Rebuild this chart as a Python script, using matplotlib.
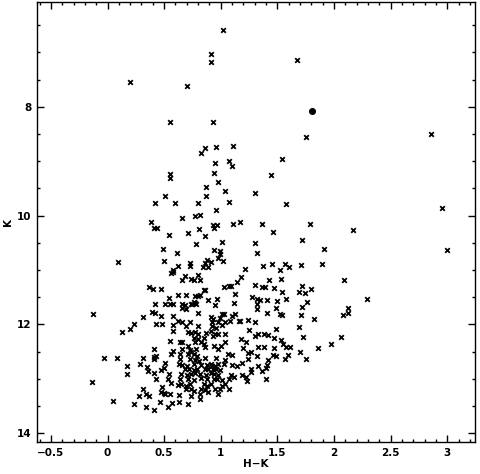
import numpy as np
import matplotlib
matplotlib.use('Agg')
import matplotlib.pyplot as plt
from matplotlib.ticker import MultipleLocator, FuncFormatter

plt.rcParams['font.family'] = ['DejaVu Sans']

# bright, sparse stars in the upper part of the diagram
hk_upper = [1.02, 0.91, 0.91, 1.67, 0.20, 0.70, 0.55, 0.93, 1.75, 2.86, 0.86, 0.96, 1.11]
k_upper = [6.58, 7.03, 7.18, 7.13, 7.55, 7.61, 8.27, 8.27, 8.55, 8.49, 8.75, 8.74, 8.72]

# K between ~8.8 and ~11.4
hk_mid = [0.83, 0.95, 1.07, 1.10, 0.55, 0.55, 0.94, 0.98, 0.87, 1.04, 1.30, 0.51, 0.87,
          0.42, 0.60, 0.80, 1.07, 0.96, 0.77, 0.82, 0.66, 0.38, 0.41, 0.44, 0.93, 0.97,
          0.94, 1.11, 1.17, 0.81, 0.54, 0.71, 0.86, 1.01, 1.30, 0.78, 0.49, 0.61, 0.94,
          0.99, 0.99, 0.98, 1.02, 1.32, 0.09, 0.50, 0.73, 0.73, 0.88, 0.86, 0.91, 0.84,
          0.89, 0.62, 0.58, 0.56, 0.58, 1.21, 0.68, 0.80, 0.66, 0.74, 0.76, 0.82, 1.18,
          1.14, 0.37, 0.40, 0.47, 0.85, 1.03, 1.07, 1.09, 1.30,
          1.54, 1.44, 1.58, 2.95, 1.36, 1.79, 1.46, 2.17, 1.72, 1.91, 3.00, 1.37, 1.45,
          1.57, 1.60, 1.52, 1.71, 1.89, 1.43, 1.53, 1.72, 2.09, 1.36, 1.39, 1.47, 1.80]
k_mid = [8.85, 9.03, 9.00, 9.09, 9.23, 9.30, 9.21, 9.39, 9.48, 9.54, 9.58, 9.64, 9.63,
         9.76, 9.76, 9.76, 9.74, 9.89, 10.00, 9.98, 10.04, 10.12, 10.22, 10.22, 10.18, 10.18,
         10.23, 10.16, 10.11, 10.24, 10.35, 10.32, 10.38, 10.48, 10.50, 10.52, 10.62, 10.68, 10.64,
         10.65, 10.71, 10.78, 10.83, 10.68, 10.86, 10.83, 10.87, 10.92, 10.81, 10.87, 10.86, 10.95,
         10.95, 10.92, 10.99, 11.06, 11.03, 10.98, 11.10, 11.09, 11.19, 11.17, 11.19, 11.19, 11.13,
         11.22, 11.31, 11.34, 11.35, 11.37, 11.31, 11.30, 11.30, 11.28,
         8.96, 9.26, 9.78, 9.85, 10.15, 10.15, 10.30, 10.27, 10.44, 10.62, 10.64, 10.93, 10.89,
         10.88, 10.95, 10.99, 10.91, 10.89, 11.19, 11.16, 11.30, 11.19, 11.32, 11.32, 11.33, 11.35]

# faint blue side, H-K < 0.6
hk_blue = [0.54, 0.42, 0.51, 0.55, 0.58, -0.13, 0.39, 0.42, 0.31, 0.47, 0.58, 0.23, 0.43,
           0.48, 0.58, 0.58, 0.20, 0.13, 0.55, 0.41, 0.58, 0.56, -0.03, 0.08, 0.31, 0.41,
           0.43, 0.41, 0.51, 0.29, 0.17, 0.35, 0.36, 0.47, 0.50, 0.54, 0.17, 0.41, 0.43,
           0.53, -0.14, 0.56, 0.48, 0.31, 0.47, 0.50, 0.51, 0.55, 0.34, 0.28, 0.37, 0.05,
           0.46, 0.57, 0.23, 0.34, 0.53, 0.41]
k_blue = [11.52, 11.62, 11.62, 11.62, 11.62, 11.80, 11.77, 11.78, 11.87, 11.85, 11.84, 11.99, 12.00,
          12.00, 12.01, 12.12, 12.09, 12.13, 12.31, 12.45, 12.49, 12.54, 12.62, 12.62, 12.62, 12.60,
          12.58, 12.63, 12.70, 12.73, 12.76, 12.79, 12.85, 12.84, 12.80, 12.91, 12.91, 12.90, 13.01,
          13.00, 13.05, 13.08, 13.15, 13.19, 13.25, 13.26, 13.27, 13.28, 13.27, 13.32, 13.31, 13.40,
          13.42, 13.44, 13.47, 13.52, 13.51, 13.58]

# dense core, 0.6 < H-K < 1.2
hk_core = [0.62, 0.69, 0.77, 0.80, 0.82, 0.86, 1.13, 0.89, 0.97, 0.76, 0.77, 0.66, 0.68,
           0.74, 0.75, 0.78, 0.95, 1.12, 0.66, 0.69, 0.80, 1.01, 1.03, 1.13, 1.10, 0.91,
           0.93, 0.99, 1.17, 0.62, 0.66, 0.73, 0.92, 0.98, 1.04, 1.08, 1.16, 0.69, 0.80,
           0.92, 0.96, 1.01, 0.71, 0.74, 0.77, 0.80, 0.87, 0.91, 0.95, 0.98, 1.04, 0.76,
           0.80, 0.85, 0.93, 0.64, 0.66, 0.77, 0.83, 0.85, 1.04, 1.18, 0.71, 0.86, 0.94,
           1.00, 0.66, 0.73, 0.74, 0.78, 0.98, 1.20, 0.64, 0.71, 0.76, 0.79, 0.86, 0.96,
           1.06, 1.10, 0.64, 0.73, 0.77, 0.81, 1.04, 1.19, 0.63, 0.66, 0.70, 0.76, 0.83,
           0.88, 0.91, 0.92, 0.95, 0.98, 1.03, 1.10, 1.14, 0.68, 0.72, 0.76, 0.79, 0.86,
           0.89, 0.93, 0.96, 0.99, 0.65, 0.70, 0.74, 0.77, 0.82, 0.87, 0.91, 0.94, 0.98,
           1.09, 1.12, 1.19, 0.64, 0.71, 0.76, 0.83, 0.88, 0.94, 0.97, 1.01, 1.07, 0.62,
           0.65, 0.69, 0.73, 0.85, 0.88, 0.91, 1.01, 1.04, 0.69, 0.74, 0.76, 0.83, 0.86,
           0.95, 0.99, 1.07, 0.63, 0.74, 0.82, 0.89, 0.98, 0.82, 0.63, 0.71]
k_core = [11.46, 11.46, 11.47, 11.47, 11.46, 11.36, 11.44, 11.55, 11.54, 11.58, 11.61, 11.63, 11.65,
          11.63, 11.63, 11.63, 11.65, 11.61, 11.69, 11.71, 11.78, 11.81, 11.81, 11.80, 11.84, 11.87,
          11.90, 11.88, 11.93, 11.93, 11.96, 11.96, 11.96, 11.96, 11.96, 11.93, 11.94, 12.02, 12.02,
          12.02, 12.06, 12.01, 12.14, 12.15, 12.14, 12.17, 12.15, 12.12, 12.18, 12.17, 12.17, 12.24,
          12.26, 12.24, 12.22, 12.32, 12.33, 12.33, 12.33, 12.35, 12.32, 12.27, 12.39, 12.41, 12.39,
          12.39, 12.45, 12.47, 12.50, 12.45, 12.45, 12.44, 12.55, 12.55, 12.55, 12.58, 12.61, 12.61,
          12.55, 12.57, 12.64, 12.64, 12.65, 12.67, 12.65, 12.71, 12.73, 12.75, 12.76, 12.73, 12.75,
          12.75, 12.73, 12.77, 12.76, 12.73, 12.73, 12.75, 12.76, 12.82, 12.82, 12.84, 12.82, 12.82,
          12.82, 12.82, 12.81, 12.84, 12.91, 12.93, 12.91, 12.90, 12.91, 12.93, 12.90, 12.91, 12.93,
          12.93, 12.96, 12.93, 13.01, 13.01, 13.02, 12.99, 13.01, 13.01, 13.01, 13.02, 13.01, 13.12,
          13.10, 13.13, 13.10, 13.10, 13.13, 13.10, 13.13, 13.10, 13.19, 13.19, 13.22, 13.19, 13.20,
          13.19, 13.19, 13.18, 13.30, 13.31, 13.28, 13.25, 13.28, 13.37, 13.42, 13.47]

# red side, H-K > 1.2
hk_red = [1.54, 1.69, 1.74, 1.28, 1.32, 1.35, 1.41, 1.50, 1.58, 1.76, 1.72, 1.32, 1.32,
          1.49, 1.41, 1.52, 1.54, 1.71, 1.24, 1.30, 1.82, 1.69, 1.25, 1.49, 1.30, 1.33,
          1.38, 1.42, 1.47, 1.53, 1.73, 1.22, 1.55, 1.97, 1.33, 1.38, 1.47, 1.58, 1.61,
          1.86, 1.27, 1.24, 1.70, 1.32, 1.46, 1.49, 1.59, 1.24, 1.42, 1.57, 1.75, 1.41,
          1.33, 1.40, 1.27, 1.36, 1.27, 1.22, 1.23, 1.40,
          2.29, 2.12, 2.12, 2.08, 2.06]
k_red = [11.40, 11.40, 11.43, 11.50, 11.54, 11.55, 11.55, 11.56, 11.53, 11.58, 11.67, 11.63, 11.71,
         11.69, 11.79, 11.81, 11.83, 11.82, 11.92, 11.95, 11.90, 12.04, 12.10, 12.09, 12.21, 12.17,
         12.17, 12.19, 12.24, 12.28, 12.23, 12.33, 12.35, 12.36, 12.42, 12.41, 12.43, 12.41, 12.41,
         12.43, 12.50, 12.52, 12.50, 12.58, 12.57, 12.58, 12.57, 12.64, 12.65, 12.63, 12.64, 12.75,
         12.76, 12.80, 12.81, 12.85, 12.88, 12.96, 13.04, 13.01,
         11.54, 11.69, 11.78, 11.83, 12.23]

# the single star drawn as a filled circle
hk_dot = [1.81]
k_dot = [8.07]

hk = np.array(hk_upper + hk_mid + hk_blue + hk_core + hk_red)
kmag = np.array(k_upper + k_mid + k_blue + k_core + k_red)

fig = plt.figure(figsize=(4.81, 4.74), dpi=100)
ax = fig.add_axes([0.0776, 0.0675, 0.910, 0.928])

ax.scatter(hk, kmag, marker='x', s=11, c='black', linewidths=1.3)
ax.scatter(hk_dot, k_dot, marker='o', s=26, c='black', linewidths=0)

ax.set_xlim(-0.62, 3.246)
ax.set_ylim(14.16, 6.075)

ax.xaxis.set_major_locator(MultipleLocator(0.5))
ax.xaxis.set_minor_locator(MultipleLocator(0.1))
ax.yaxis.set_major_locator(MultipleLocator(2))
ax.yaxis.set_minor_locator(MultipleLocator(0.5))
ax.xaxis.set_major_formatter(FuncFormatter(lambda v, p: ('%g' % v).replace('-', '\u2212')))
ax.yaxis.set_major_formatter(FuncFormatter(lambda v, p: '%g' % v))

ax.tick_params(which='both', direction='in', top=True, right=True, width=1.0,
               labelsize=7.5, pad=4)
ax.tick_params(which='major', length=5)
ax.tick_params(which='minor', length=2.5)
for lab in ax.get_xticklabels() + ax.get_yticklabels():
    lab.set_fontweight('bold')
for sp in ax.spines.values():
    sp.set_linewidth(1.0)

ax.set_xlabel('H\u2212K', fontsize=7.5, fontweight='bold', labelpad=1)
ax.set_ylabel('K', fontsize=7.5, fontweight='bold', labelpad=3)

fig.savefig('out.png', dpi=100)
